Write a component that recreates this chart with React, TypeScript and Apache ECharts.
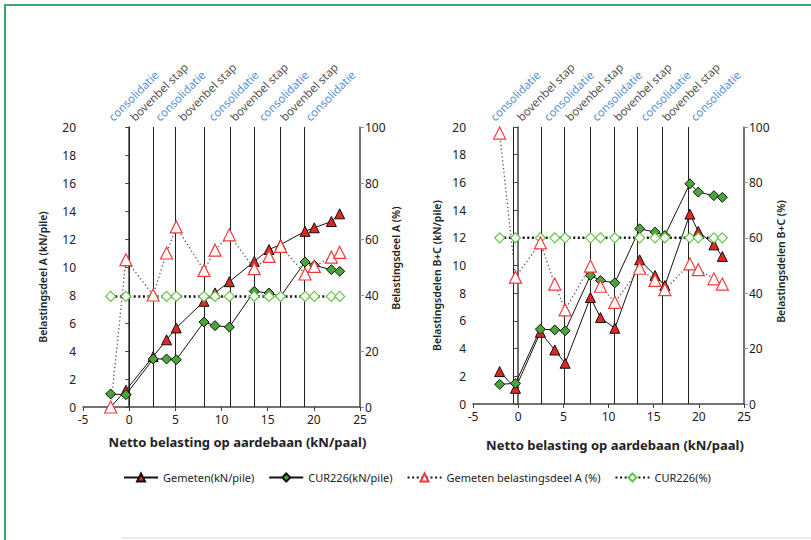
import React, { useEffect, useRef } from 'react';
import * as echarts from 'echarts';

// ---------- Data: Belastingsdeel A (left chart) ----------
const xA = [-2.0, -0.35, 2.6, 4.05, 5.1, 8.1, 9.3, 10.85, 13.55, 15.15, 16.4, 19.05, 20.05, 21.9, 22.8];
const gemA = [0, 1.2, 3.6, 4.8, 5.65, 7.55, 8.15, 8.95, 10.4, 11.25, 11.6, 12.55, 12.8, 13.25, 13.8];
const curA = [0.93, 0.88, 3.43, 3.43, 3.38, 6.07, 5.81, 5.71, 8.26, 8.14, 7.9, 10.36, 10.12, 9.81, 9.69];
const gemPctA = [0, 52.6, 40, 55, 64.3, 48.8, 56, 61.5, 49.4, 53.8, 57.4, 47.5, 50.2, 53.5, 55.2];
const curPctA = [39.5, 39.5, 39.5, 39.5, 39.5, 39.5, 39.5, 39.5, 39.5, 39.5, 39.5, 39.5, 39.5, 39.5, 39.5];
const stepLinesA = [0, 2.6, 5.0, 8.1, 10.9, 13.55, 16.4, 18.95];
const phaseLabelXA = [-1.57, 0.78, 3.49, 6.01, 9.26, 11.61, 14.68, 17.03, 19.74];

// ---------- Data: Belastingsdelen B+C (right chart) ----------
const xBC = [-2.05, -0.3, 2.46, 4.05, 5.2, 8.0, 9.11, 10.7, 13.45, 15.15, 16.24, 19.01, 19.94, 21.67, 22.6];
const gemBC = [2.34, 1.13, 5.18, 3.9, 2.94, 7.69, 6.24, 5.47, 10.41, 9.28, 8.55, 13.71, 12.46, 11.49, 10.65];
const curBC = [1.42, 1.49, 5.4, 5.35, 5.28, 9.28, 8.92, 8.75, 12.65, 12.41, 12.17, 15.9, 15.3, 15.04, 14.92];
const gemPctBC = [97.8, 45.8, 58.2, 43.3, 34.0, 49.8, 42.5, 36.7, 49, 44.6, 41.3, 50.6, 48.5, 45.2, 43.3];
const curPctBC = [60, 60, 60, 60, 60, 60, 60, 60, 60, 60, 60, 60, 60, 60, 60];
const stepLinesBC = [-0.55, 2.57, 5.15, 7.95, 10.65, 13.2, 15.9, 18.85];
const phaseLabelXBC = [-2.41, 0.54, 3.5, 5.91, 8.85, 11.26, 14.22, 16.61, 19.76];

const phaseNames = [
  'consolidatie', 'bovenbel stap', 'consolidatie', 'bovenbel stap', 'consolidatie',
  'bovenbel stap', 'consolidatie', 'bovenbel stap', 'consolidatie',
];

const xTicks = [-5, 25, 5];
const yLeftRange = [0, 20, 2];
const yRightRange = [0, 100, 20];

const NAME_GEM = 'Gemeten(kN/pile)';
const NAME_CUR = 'CUR226(kN/pile)';
const NAME_GEMPCT = 'Gemeten belastingsdeel A (%)';
const NAME_CURPCT = 'CUR226(%)';

const FONT = '"Noto Sans", "Open Sans", sans-serif';
const RED = '#e3261f';
const GREEN = '#4aa635';
const OPEN_RED = '#f23a3a';
const OPEN_GREEN = '#66c447';
const BLUE = '#1f70c4';

const zip = (xs: number[], ys: number[]) => xs.map((x, i) => [x, ys[i]]);

function buildSeries(g: number, xs: number[], gem: number[], cur: number[], gemPct: number[], curPct: number[], steps: number[], labelX: number[]) {
  const xi = g;
  const yl = g * 2;
  const yr = g * 2 + 1;
  return [
    {
      name: NAME_GEM, type: 'line', xAxisIndex: xi, yAxisIndex: yl, data: zip(xs, gem),
      symbol: 'triangle', symbolSize: 10, z: 4,
      itemStyle: { color: RED, borderColor: '#111', borderWidth: 1 },
      lineStyle: { color: '#111', width: 1 },
      markLine: {
        silent: true, symbol: ['none', 'none'], label: { show: false },
        lineStyle: { color: '#222', width: 1, type: 'solid' },
        data: steps.map((v) => ({ xAxis: v })),
        z: 1,
      },
    },
    {
      name: NAME_CUR, type: 'line', xAxisIndex: xi, yAxisIndex: yl, data: zip(xs, cur),
      symbol: 'diamond', symbolSize: 10, z: 4,
      itemStyle: { color: GREEN, borderColor: '#111', borderWidth: 1 },
      lineStyle: { color: '#111', width: 1 },
    },
    {
      name: NAME_CURPCT, type: 'line', xAxisIndex: xi, yAxisIndex: yr, data: zip(xs, curPct),
      symbol: 'diamond', symbolSize: 10, z: 5,
      itemStyle: { color: '#fff', borderColor: OPEN_GREEN, borderWidth: 1.2 },
      lineStyle: { color: '#111', width: 2.5, type: [2, 2.6] },
    },
    {
      name: NAME_GEMPCT, type: 'line', xAxisIndex: xi, yAxisIndex: yr, data: zip(xs, gemPct),
      symbol: 'triangle', symbolSize: 12, z: 6,
      itemStyle: { color: '#fff', borderColor: OPEN_RED, borderWidth: 1.2 },
      lineStyle: { color: '#555', width: 1.3, type: [1.3, 2.6] },
    },
    {
      name: 'phases' + g, type: 'scatter', xAxisIndex: xi, yAxisIndex: yl, silent: true,
      symbolSize: 0.1, itemStyle: { color: 'transparent' }, z: 10,
      data: labelX.map((x, i) => ({
        value: [x, 20],
        label: { color: i % 2 === 0 ? BLUE : '#1a1a1a' },
      })),
      label: {
        show: true, position: 'top', distance: 4, rotate: 45, align: 'left', verticalAlign: 'bottom',
        fontSize: 11.5, fontFamily: FONT,
        formatter: (p: any) => phaseNames[p.dataIndex],
      },
    },
  ];
}

function xAxis(gridIndex: number, nameGap: number, padLeft: number) {
  return {
    type: 'value', gridIndex, min: xTicks[0], max: xTicks[1], interval: xTicks[2],
    axisLine: { show: true, onZero: false, lineStyle: { color: '#444', width: 1.5 } },
    axisTick: { show: true, length: 4, lineStyle: { color: '#444' } },
    axisLabel: { fontSize: 12, color: '#222', margin: 6, fontFamily: FONT },
    splitLine: { show: false },
    name: 'Netto belasting op aardebaan (kN/paal)', nameLocation: 'middle', nameGap,
    nameTextStyle: { fontSize: 13, fontWeight: 'bold', color: '#222', fontFamily: FONT, padding: [0, 0, 0, padLeft] },
  };
}

function yAxis(gridIndex: number, pos: 'left' | 'right', name: string, nameGap: number, pad: number[]) {
  const r = pos === 'left' ? yLeftRange : yRightRange;
  return {
    type: 'value', gridIndex, position: pos, min: r[0], max: r[1], interval: r[2],
    axisLine: { show: true, lineStyle: { color: '#444', width: 1.5 } },
    axisTick: { show: true, length: 4, lineStyle: { color: pos === 'left' ? '#444' : '#7aa87a' } },
    axisLabel: { fontSize: 12, color: '#222', margin: pos === 'left' ? 7 : 5, fontFamily: FONT },
    splitLine: { show: false },
    name, nameLocation: 'middle', nameGap, nameRotate: 90,
    nameTextStyle: { fontSize: 10.5, fontWeight: 600, color: '#222', fontFamily: FONT, padding: pad },
  };
}

export default function App() {
  const ref = useRef<HTMLDivElement>(null);
  useEffect(() => {
    if (!ref.current) return;
    const chart = echarts.init(ref.current, undefined, { renderer: 'svg' });
    chart.setOption({
      animation: false,
      backgroundColor: '#fff',
      textStyle: { fontFamily: FONT },
      grid: [
        { left: 83, top: 127, width: 277, height: 280 },
        { left: 473, top: 127, width: 271, height: 277 },
      ],
      xAxis: [xAxis(0, 28, 32), xAxis(1, 34, 13)],
      yAxis: [
        yAxis(0, 'left', 'Belastingsdeel A (kN/pile)', 35, [0, 20, 0, 0]),
        yAxis(0, 'right', 'Belastingsdeel A (%)', 30, [0, 0, 0, 18]),
        yAxis(1, 'left', 'Belastingsdelen B+C (kN/pile)', 31, [0, 20, 0, 0]),
        yAxis(1, 'right', 'Belastingsdelen B+C (%)', 31, [0, 0, 0, 8]),
      ],
      legend: {
        left: 118, top: 467, itemWidth: 34, itemHeight: 10, itemGap: 14,
        textStyle: { fontSize: 11, color: '#222', fontFamily: FONT },
        data: [
          { name: NAME_GEM },
          { name: NAME_CUR },
          { name: NAME_GEMPCT, lineStyle: { color: '#111', width: 2, type: [2, 2.6] } },
          { name: NAME_CURPCT },
        ],
      },
      graphic: [
        { type: 'line', shape: { x1: 4, y1: 5, x2: 811, y2: 5 }, style: { stroke: '#35a874', lineWidth: 2 } },
        { type: 'line', shape: { x1: 5, y1: 4, x2: 5, y2: 540 }, style: { stroke: '#35a874', lineWidth: 2 } },
        { type: 'line', shape: { x1: 122, y1: 538, x2: 811, y2: 538 }, style: { stroke: '#dbe9e2', lineWidth: 1.5 } },
      ],
      series: [
        ...buildSeries(0, xA, gemA, curA, gemPctA, curPctA, stepLinesA, phaseLabelXA),
        ...buildSeries(1, xBC, gemBC, curBC, gemPctBC, curPctBC, stepLinesBC, phaseLabelXBC),
      ],
    });
    return () => chart.dispose();
  }, []);
  return <div ref={ref} style={{ position: 'fixed', left: 0, top: 0, width: 811, height: 540, background: '#fff' }} />;
}
